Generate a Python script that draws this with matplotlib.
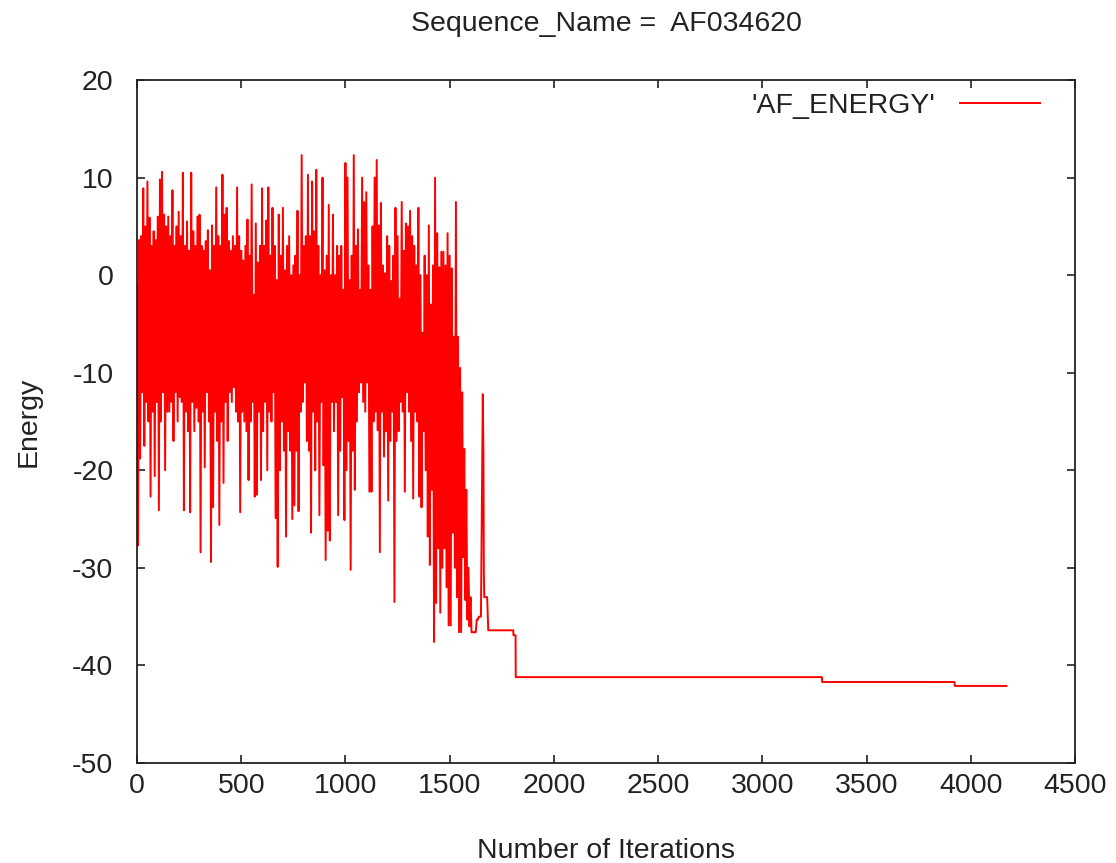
import numpy as np
import matplotlib
matplotlib.use("Agg")
import matplotlib.pyplot as plt

plt.rcParams['font.family'] = ['Liberation Sans', 'DejaVu Sans']
plt.rcParams['axes.unicode_minus'] = False
plt.rcParams['path.simplify'] = False

# noisy phase: one high/low pair for every 10 iterations (0..1640)
step = 10
hi = [
    -1, 3.6, 4, 8.9, 5, 9.6, 5.9, 3, 4.5, 3.6, 6, 9.8, 10.6, 6.2, 5,
    6, 4, 8.7, 3, 5, 6.5, 4, 10.5, 3, 5.5, 2.5, 10.5, 4.5, 3, 6,
    6.2, 3, 2.5, 3.5, 4.6, 0.5, 5.1, 3, 9.0, 4, 3, 10.3, 6.2, 6.9, 3.5,
    2.5, 4, 3, 9.0, 4, 2.5, 1.5, 3, 5.7, 2, 9.3, -2, 5.3, 1.3, 3,
    8.9, 3, 5.6, 9.0, 2, 6.9, 3, -0.5, 6.2, 2, 6.9, 0.5, 3, 4.0, 0,
    1, 2, 6.6, 0, 12.3, 3, 4, 10.3, 4, 9.6, 4.5, 10.8, 3, 0, 10.0,
    0.5, 2, 7.2, 0, 6.2, 0, 3, 2, 3, -1.5, 11.5, 10.0, -0.5, 2, 12.3,
    3, 4.7, -1.5, 10, 7.5, 8.5, 1, -1.5, 5, 10, 11.8, 5.1, 7.4, 1, 0.2,
    4, 3, -0.6, 2, 6.9, 4, -2.4, 7.5, 2.5, 5.3, 5, 6.6, 4, 3, 1,
    6.9, 0, -5.9, 2, 0, 5.1, -3, 1, 10.0, 4.3, 0.8, 2.4, 2.4, 1, 4.3,
    2, 0.7, -6.3, 7.5, -6.3, -9.5, -12, -17.8, -22, -30, -33, -36.6, -36.6, -35.3, -35.0,
]
lo = [
    -27.7, -18.8, -12, -17.5, -13, -15, -22.7, -14, -20.6, -13, -24.1, -15, -12, -20.0, -14,
    -14, -13, -17, -12, -15, -12.5, -13, -24.1, -14, -16, -24.3, -13, -16, -13.6, -15,
    -28.4, -14, -19.7, -12, -15, -29.4, -23.8, -14, -17, -25.6, -15, -21.3, -13, -17, -12,
    -13, -11.5, -14, -15, -24.3, -14, -15, -16, -21.0, -15, -13, -22.7, -22.5, -14, -21.0,
    -16, -13, -20, -14, -15, -12, -24.9, -29.9, -20, -15, -18, -26.8, -16, -18, -25,
    -23.6, -18, -24.2, -14, -13, -11, -17, -18, -26.4, -14, -20, -15, -24.6, -13, -19.5,
    -29.2, -26.2, -27.2, -13, -16, -13, -24.6, -18, -12.5, -25.1, -20, -17, -30.2, -18, -22,
    -15, -12, -11, -13, -14, -11, -22.2, -22.2, -15, -14, -15.9, -28.4, -14, -18.6, -16,
    -23.1, -17, -14, -33.5, -17, -16, -13, -14, -22.2, -12, -14, -17, -22.9, -14, -15,
    -22.7, -23.8, -16, -20, -26.8, -29.7, -22, -37.6, -33.6, -28, -34.6, -30, -28, -32, -35.9,
    -35.9, -26.4, -30, -33, -36.6, -36.6, -28.9, -33.3, -35.3, -36, -36.6, -36.6, -36.6, -35.3, -35.0,
]

# converged phase
tail_iter = [1650, 1659, 1662, 1664, 1666, 1680, 1685, 1805, 1806, 1816, 1817,
             3286, 3287, 3922, 3923, 4171]
tail_energy = [-35.0, -12.2, -18.4, -30.7, -33.0, -33.0, -36.4, -36.4, -36.9, -36.9,
               -41.2, -41.2, -41.7, -41.7, -42.1, -42.1]

it = np.arange(len(hi)) * step
x = np.column_stack([it, it + step / 2]).ravel()
y = np.column_stack([hi, lo]).ravel()
x = np.concatenate([x, tail_iter])
y = np.concatenate([y, tail_energy])

fig = plt.figure(figsize=(11.16, 8.63), dpi=100)
ax = fig.add_axes([137 / 1116, 100 / 863, 938 / 1116, 683 / 863])

ax.plot(x, y, color='#ff0000', linewidth=1.4, label="'AF_ENERGY'")

ax.set_xlim(0, 4500)
ax.set_ylim(-50, 20)
ax.set_xticks(np.arange(0, 4501, 500))
ax.set_yticks(np.arange(-50, 21, 10))
ax.tick_params(direction='in', length=6, width=1.2, top=True, right=True,
               labelsize=20.5, colors='#222222')
ax.tick_params(axis='x', pad=7)
ax.tick_params(axis='y', pad=17)
for s in ax.spines.values():
    s.set_linewidth(1.3)
    s.set_color('#222222')

ax.set_xlabel('Number of Iterations', fontsize=20.5, labelpad=28, color='#222222')
ax.set_ylabel('Energy', fontsize=20.5, labelpad=22, color='#222222')
ax.set_title('Sequence_Name =  AF034620', fontsize=20.5, pad=35, color='#222222')

leg = ax.legend(loc='upper right', bbox_to_anchor=(0.9627, 0.981),
                frameon=False, markerfirst=False, borderpad=0, borderaxespad=0,
                handlelength=2.8, handletextpad=0.88, fontsize=20.5)
for t in leg.get_texts():
    t.set_color('#222222')

fig.savefig('out.png', dpi=100)
